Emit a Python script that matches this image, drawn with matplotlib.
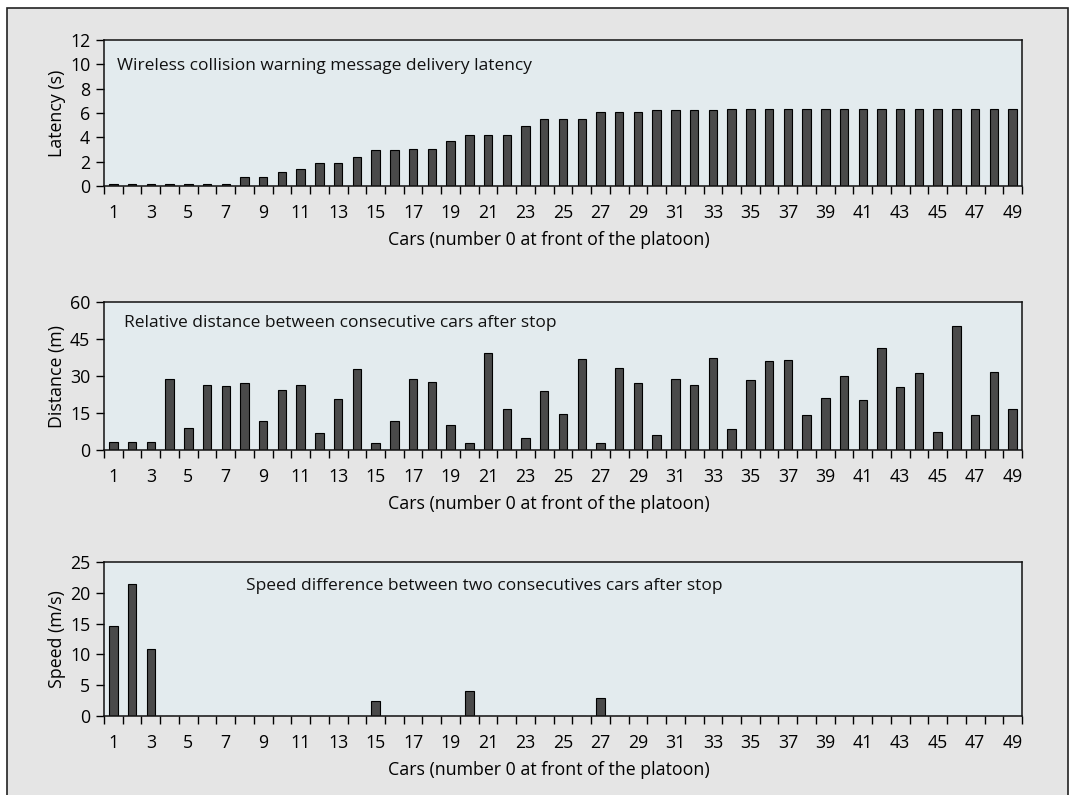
import numpy as np
import matplotlib
matplotlib.use("Agg")
import matplotlib.pyplot as plt
from matplotlib.patches import Rectangle

plt.rcParams['font.family'] = ['Open Sans', 'DejaVu Sans']

cars = np.arange(1, 50)
tick_labels = [str(c) for c in range(1, 50, 2)]

latency = [0.2, 0.2, 0.2, 0.2, 0.2, 0.2, 0.2, 0.75, 0.75, 1.12,
           1.4, 1.9, 1.9, 2.4, 3.0, 3.0, 3.05, 3.05, 3.67, 4.16,
           4.16, 4.16, 4.96, 5.5, 5.5, 5.5, 6.05, 6.05, 6.05, 6.27,
           6.27, 6.27, 6.27, 6.33, 6.33, 6.33, 6.33, 6.33, 6.33, 6.33,
           6.33, 6.33, 6.33, 6.33, 6.33, 6.33, 6.33, 6.33, 6.33]

distance = [3.2, 3.2, 3.2, 28.7, 8.9, 26.4, 25.9, 27.1, 11.6, 24.4,
            26.5, 7.0, 20.5, 33.0, 3.0, 11.9, 28.8, 27.5, 10.1, 2.8,
            39.4, 16.6, 5.0, 24.0, 14.4, 36.9, 2.8, 33.2, 27.0, 6.1,
            28.7, 26.5, 37.2, 8.4, 28.4, 36.0, 36.3, 14.0, 20.9, 30.1,
            20.1, 41.5, 25.7, 31.4, 7.4, 50.3, 14.0, 31.5, 16.7]

speed = [14.6, 21.5, 10.9, 0, 0, 0, 0, 0, 0, 0,
         0, 0, 0, 0, 2.4, 0, 0, 0, 0, 4.05,
         0, 0, 0, 0, 0, 0, 3.0, 0, 0, 0,
         0, 0, 0, 0, 0, 0, 0, 0, 0, 0,
         0, 0, 0, 0, 0, 0, 0, 0, 0]

panels = [
    (latency, 'Latency (s)', [0, 2, 4, 6, 8, 10, 12], 12,
     'Wireless collision warning message delivery latency', (0.014, 0.82), 40, 186),
    (distance, 'Distance (m)', [0, 15, 30, 45, 60], 60,
     'Relative distance between consecutive cars after stop', (0.022, 0.855), 302, 450),
    (speed, 'Speed (m/s)', [0, 5, 10, 15, 20, 25], 25,
     'Speed difference between two consecutives cars after stop', (0.155, 0.844), 562, 716),
]

W, H = 1080, 795
fig = plt.figure(figsize=(W / 100, H / 100), dpi=100, facecolor='white')

# grey outer frame behind everything
fig.patches.append(Rectangle((7 / W, -0.02), (1068 - 7) / W, 1.02 - 8 / H,
                             transform=fig.transFigure, facecolor='#e5e5e5',
                             edgecolor='#222222', linewidth=1.2, zorder=-10))

fs = 12.8
left, right = 104, 1022
for values, ylabel, yticks, ymax, title, tpos, top, bottom in panels:
    ax = fig.add_axes([left / W, 1 - bottom / H, (right - left) / W, (bottom - top) / H])
    ax.set_facecolor('#e3ebee')
    ax.bar(cars, values, width=0.45, color='#4a4a4a', edgecolor='black', linewidth=0.8)
    ax.set_xlim(0.5, 49.5)
    ax.set_ylim(0, ymax)
    ax.set_yticks(yticks)
    # labels on odd cars, tick marks on category boundaries
    ax.set_xticks(range(1, 50, 2))
    ax.set_xticklabels(tick_labels)
    ax.set_xticks(np.arange(0.5, 50, 1), minor=True)
    ax.tick_params(axis='x', which='major', length=0, pad=13, labelsize=fs)
    ax.tick_params(axis='x', which='minor', length=6, width=1, direction='out')
    ax.tick_params(axis='y', length=6, width=1, direction='out', labelsize=fs, pad=4)
    for s in ax.spines.values():
        s.set_linewidth(1.1)
        s.set_color('#111111')
    ax.set_ylabel(ylabel, fontsize=fs, labelpad=3)
    ax.set_xlabel('Cars (number 0 at front of the platoon)', fontsize=fs,
                  va='center')
    ax.xaxis.set_label_coords(0.485, -(54 / (bottom - top)))
    ax.text(tpos[0], tpos[1], title, transform=ax.transAxes, fontsize=12.5,
            ha='left', va='center', color='#111111')

fig.savefig('out.png', dpi=100, facecolor='white')
